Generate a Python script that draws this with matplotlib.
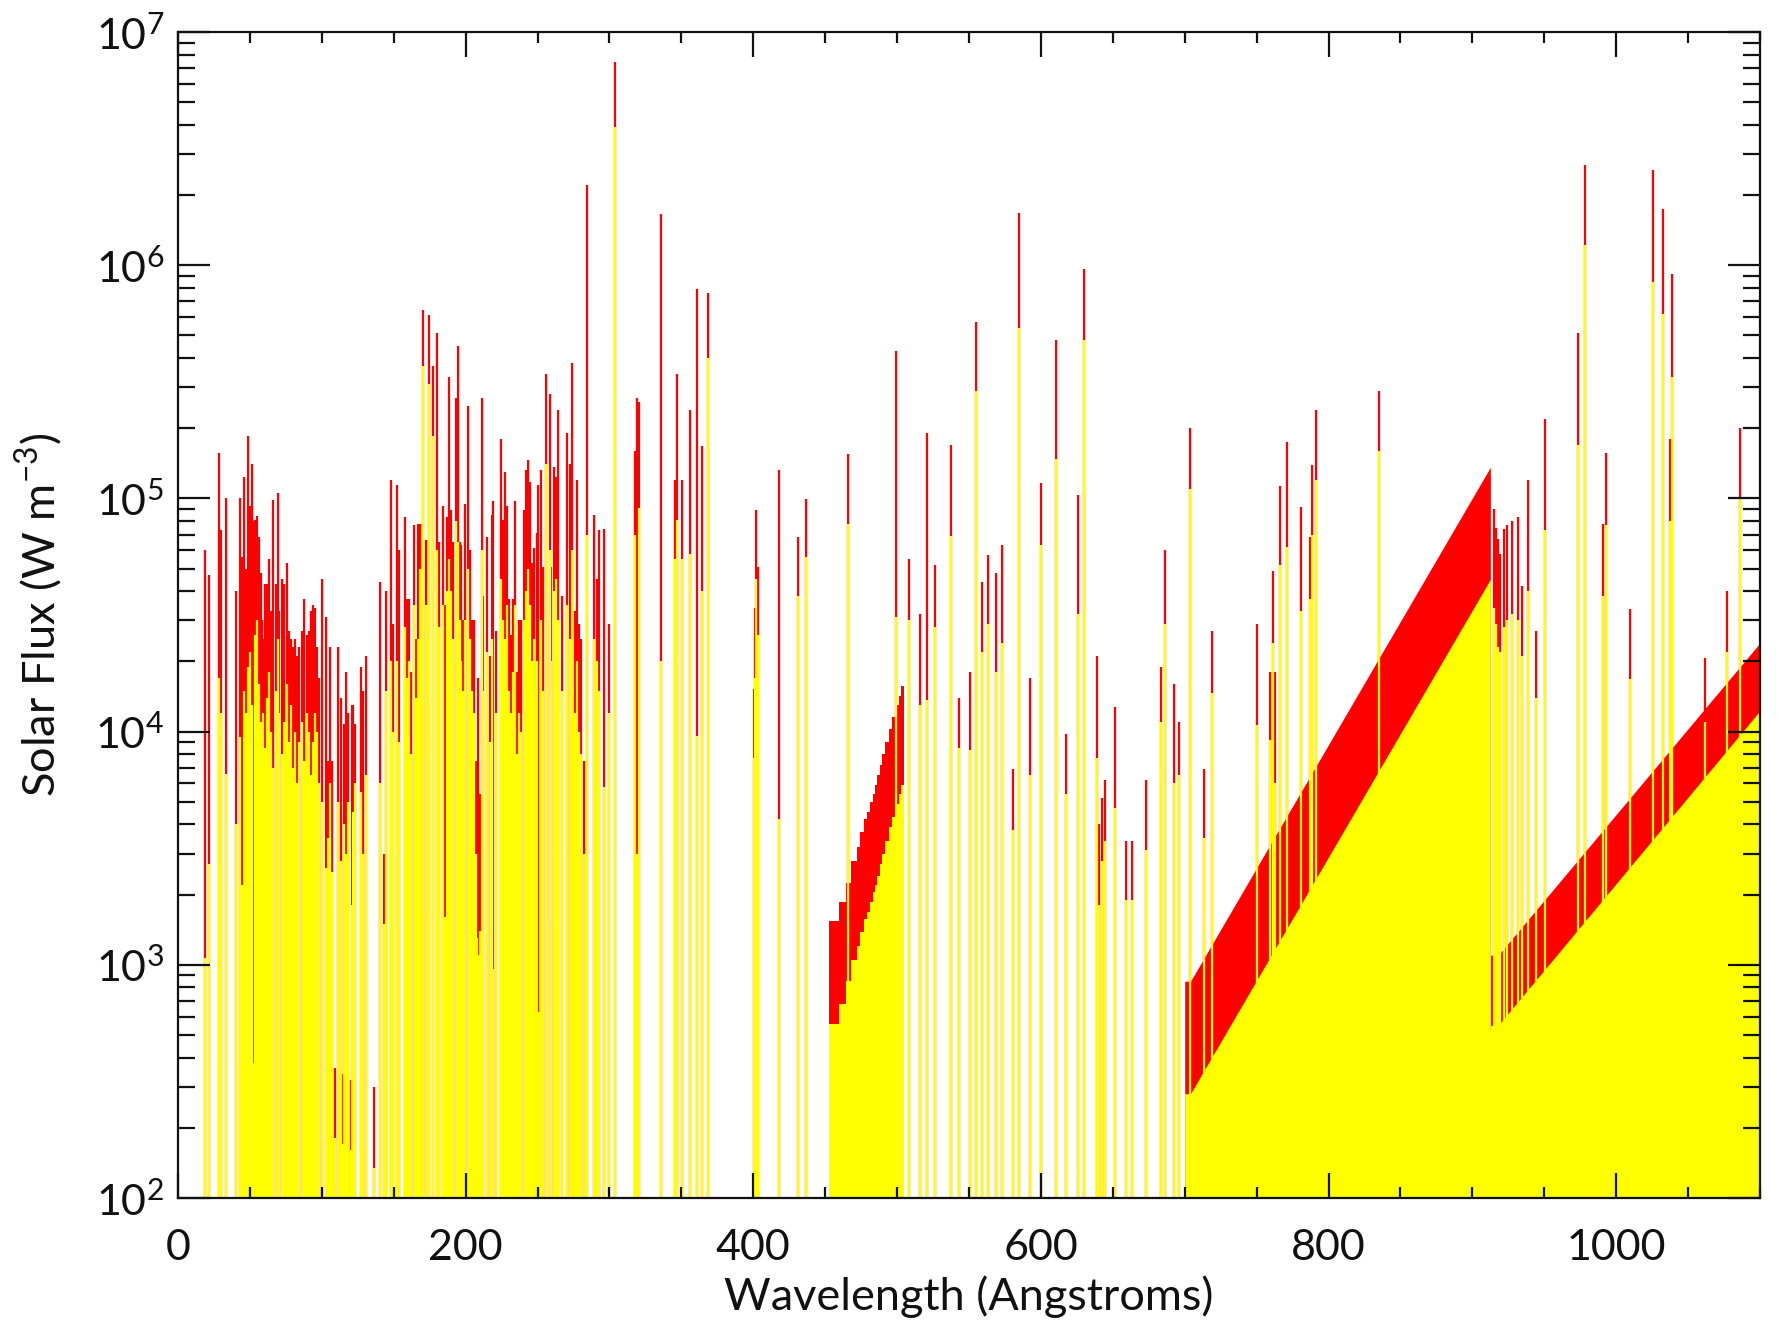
import matplotlib
matplotlib.use('Agg')
import matplotlib.pyplot as plt
from matplotlib.ticker import FixedLocator, MultipleLocator, LogLocator, NullFormatter

plt.rcParams['font.family'] = ['Lato', 'DejaVu Sans']
plt.rcParams['mathtext.fontset'] = 'custom'
plt.rcParams['mathtext.rm'] = 'Lato'
plt.rcParams['mathtext.it'] = 'Lato:italic'
plt.rcParams['mathtext.bf'] = 'Lato:bold'

# ---------------- data ----------------
# emission lines, 0-150 A : wavelength, flux at solar max (red), flux at solar min (yellow)
wl_a = [18.6, 21.6, 28.6, 29.7, 33.2, 40.4, 43.2, 44.6, 46.0, 47.4, 49.0, 50.4, 51.8, 52.4, 53.2, 54.8,
        56.2, 57.6, 58.6, 59.0, 60.4, 61.7, 63.1, 64.5, 65.9, 67.8, 69.2, 70.5, 72.2, 73.6, 75.7, 77.0,
        78.4, 79.8, 81.2, 82.6, 84.0, 86.1, 87.7, 89.6, 91.0, 92.3, 93.7, 95.1, 96.5, 97.9, 100.2, 103.0,
        104.4, 105.8, 107.4, 109.3, 111.1, 113.4, 114.6, 115.5, 116.7, 118.1, 120.2, 120.8, 121.8, 123.4,
        127.1, 128.7, 130.6, 136.4, 140.8, 143.0, 144.7, 148.0, 149.8]
max_a = [6.0e4, 4.7e4, 1.57e5, 7.3e4, 1.0e5, 4.0e4, 1.0e5, 5.6e4, 1.24e5, 5.0e4, 1.85e5, 9.3e4, 1.4e5, 8.0e4, 8.1e4, 8.4e4,
         6.8e4, 4.8e4, 3.0e4, 2.5e4, 4.3e4, 4.3e4, 5.5e4, 3.3e4, 9.8e4, 4.3e4, 1.05e5, 3.3e4, 4.5e4, 4.3e4, 5.3e4, 2.7e4,
         2.5e4, 2.3e4, 2.5e4, 2.1e4, 2.3e4, 2.7e4, 3.7e4, 2.6e4, 2.7e4, 3.3e4, 3.5e4, 3.4e4, 2.3e4, 1.7e4, 4.5e4, 3.1e4,
         7.5e3, 2.3e4, 7.5e3, 3.6e2, 2.3e4, 1.4e4, 3.4e2, 1.08e4, 1.8e4, 1.2e4, 3.2e2, 1.3e4, 1.3e4, 1.08e4,
         1.9e4, 1.5e4, 2.1e4, 3.0e2, 4.4e4, 3.0e3, 4.0e4, 1.2e5, 2.9e4]
min_a = [1.07e3, 2.7e3, 1.7e4, 1.2e4, 6.6e3, 4.0e3, 9.5e3, 2.2e3, 1.5e4, 1.2e4, 1.9e4, 2.2e4, 1.3e4, 3.8e2, 2.6e4, 3.0e4,
         1.6e4, 1.1e4, 2.3e3, 1.2e4, 8.5e3, 1.4e4, 1.8e4, 1.0e4, 7.0e3, 1.5e4, 2.5e4, 1.2e4, 8.0e3, 1.1e4, 1.6e4, 9.0e3,
         1.3e4, 7.0e3, 1.0e4, 6.0e3, 9.0e3, 1.1e4, 7.5e3, 1.2e4, 1.0e4, 6.5e3, 9.0e3, 1.2e4, 1.0e4, 6.0e3, 5.0e3, 2.6e3,
         3.5e3, 6.0e3, 2.5e3, 1.8e2, 5.0e3, 2.8e3, 1.7e2, 4.0e3, 3.0e3, 5.0e3, 1.6e2, 1.8e3, 4.5e3, 6.0e3,
         5.5e3, 3.0e3, 6.5e3, 1.35e2, 6.0e3, 1.5e3, 1.5e4, 2.0e4, 1.0e4]

# emission lines, 150-400 A
wl_b = [152.2, 153.6, 157.5, 159.1, 160.5, 161.7, 164.0, 165.6, 167.2, 168.4, 170.3, 172.6, 174.2, 177.2, 180.0, 181.8,
        184.6, 185.9, 186.7, 188.1, 190.0, 191.1, 193.0, 194.4, 195.8, 197.1, 198.5, 199.9, 201.5, 202.7, 204.3, 205.5,
        206.9, 207.8, 208.3, 209.7, 211.3, 212.4, 214.8, 216.6, 218.2, 219.2, 221.3, 224.7, 226.1, 227.3, 228.9, 230.3,
        231.5, 232.9, 234.0, 235.6, 237.3, 238.6, 240.3, 241.7, 243.5, 244.9, 246.3, 247.7, 249.3, 250.6, 252.3, 253.7,
        256.0, 258.4, 258.9, 259.5, 261.1, 262.5, 264.4, 266.7, 270.4, 272.5, 274.1, 275.7, 277.4, 278.8, 280.4, 282.0,
        284.1, 289.2, 291.0, 292.9, 296.4, 299.6, 303.6, 317.5, 319.5, 320.7, 335.6, 345.5, 347.3, 350.1, 356.3, 360.9,
        364.4, 368.3]
max_b = [1.14e5, 6.0e4, 8.3e4, 3.7e4, 3.7e4, 1.8e4, 7.7e4, 2.5e4, 7.8e4, 7.8e4, 6.4e5, 6.6e4, 6.1e5, 3.7e5, 5.1e5, 6.5e4,
         9.3e4, 3.5e4, 8.3e4, 3.3e5, 8.9e4, 6.5e4, 2.7e5, 4.5e5, 6.5e4, 6.3e4, 3.0e4, 9.5e4, 2.5e5, 6.0e4, 3.0e4, 3.0e4,
         7.5e3, 6.0e3, 1.7e4, 5.4e3, 2.7e5, 3.8e4, 6.8e4, 2.1e4, 8.5e4, 9.7e4, 2.7e4, 1.8e5, 8.1e4, 1.3e5, 9.3e4, 3.7e4,
         2.6e4, 3.7e4, 9.7e4, 1.8e4, 3.0e4, 3.0e4, 8.9e4, 1.32e5, 1.46e5, 1.18e5, 5.3e4, 6.1e4, 7.1e4, 1.14e5, 1.32e5, 5.1e4,
         3.4e5, 2.8e5, 3.0e4, 5.1e4, 1.36e5, 1.24e5, 2.4e5, 3.8e4, 1.9e5, 1.4e5, 3.8e5, 3.3e4, 1.2e5, 2.9e4, 2.5e4, 7.5e3,
         2.2e6, 8.5e4, 4.5e4, 7.3e4, 7.4e4, 2.9e4, 7.4e6, 1.6e5, 2.7e5, 2.6e5, 1.65e6, 1.2e5, 3.4e5, 1.2e5, 2.4e5, 7.9e5,
         1.67e5, 7.6e5]
min_b = [2.0e4, 9.0e3, 2.8e4, 1.7e4, 2.0e4, 8.0e3, 3.5e4, 1.4e4, 2.5e4, 5.0e4, 3.7e5, 3.5e4, 3.1e5, 1.85e5, 6.0e4, 2.8e4,
         3.5e4, 1.6e3, 4.0e4, 5.5e4, 4.0e4, 2.5e4, 8.0e4, 6.5e4, 3.0e4, 2.0e4, 1.5e4, 3.0e4, 5.0e4, 2.5e4, 1.5e4, 1.2e4,
         3.0e3, 1.3e3, 1.1e3, 1.4e3, 6.0e4, 1.5e4, 2.2e4, 9.0e3, 2.5e4, 9.6e2, 1.2e4, 4.5e4, 3.0e4, 2.5e4, 3.5e4, 1.5e4,
         1.2e4, 1.8e4, 3.5e4, 8.0e3, 1.2e4, 1.0e4, 3.0e4, 4.0e4, 5.0e4, 3.5e4, 2.0e4, 2.5e4, 2.0e4, 6.3e2, 3.0e4, 1.5e4,
         1.4e5, 6.0e4, 1.5e3, 2.0e4, 4.0e4, 4.5e4, 3.0e4, 1.5e4, 3.5e4, 2.5e4, 6.0e4, 1.2e4, 2.0e4, 1.0e4, 8.0e3, 3.0e3,
         7.0e4, 2.5e4, 2.0e4, 1.5e4, 5.8e3, 1.2e4, 3.9e6, 7.0e4, 3.0e3, 9.1e4, 2.0e4, 5.5e4, 8.1e4, 5.5e4, 5.8e4, 9.6e3,
         4.0e4, 4.0e5]

# emission lines, 400-1100 A
wl_c = [400.3, 401.2, 402.1, 403.0, 417.6, 430.9, 436.9, 465.6, 499.5, 508.1, 516.2, 520.9, 526.2, 537.3, 543.1, 550.5,
        554.7, 558.9, 563.3, 569.1, 572.8, 580.6, 585.1, 592.7, 600.2, 610.2, 617.3, 625.7, 630.3, 639.1, 640.5, 642.3,
        644.5, 651.8, 659.2, 663.0, 673.4, 683.6, 686.1, 692.7, 695.9, 703.9, 713.2, 718.9, 750.4, 759.5, 761.2, 763.0,
        766.1, 771.2, 780.8, 787.2, 788.5, 791.0, 835.0, 913.0, 915.3, 916.3, 917.6, 918.9, 921.8, 924.1, 927.4, 931.5,
        934.6, 938.7, 944.0, 950.8, 973.7, 978.1, 991.0, 992.8, 1009.5, 1025.7, 1032.9, 1037.5, 1038.8, 1062.0, 1077.0,
        1086.4]
max_c = [1.52e4, 3.4e4, 8.9e4, 5.1e4, 1.33e5, 6.8e4, 9.9e4, 1.55e5, 4.3e5, 5.5e4, 3.2e4, 1.9e5, 5.2e4, 1.7e5, 1.4e4, 1.8e4,
         5.7e5, 4.4e4, 5.7e4, 4.8e4, 6.3e4, 6.9e3, 1.67e6, 1.7e4, 1.16e5, 4.8e5, 9.8e3, 1.03e5, 9.6e5, 2.1e4, 4.0e3, 5.2e3,
         6.2e3, 1.27e4, 3.4e3, 3.4e3, 6.2e3, 1.9e4, 6.0e4, 1.6e4, 1.1e4, 2.0e5, 6.9e3, 2.7e4, 2.9e4, 1.8e4, 4.9e4, 1.8e4,
         1.13e5, 1.75e5, 9.2e4, 6.8e4, 1.39e5, 2.4e5, 2.9e5, 1.05e3, 9.0e4, 7.5e4, 6.7e4, 5.8e4, 7.4e4, 7.7e4, 8.0e4, 8.3e4,
         4.2e4, 1.2e5, 2.7e4, 2.2e5, 5.1e5, 2.7e6, 7.8e4, 1.57e5, 3.35e4, 2.56e6, 1.75e6, 1.8e5, 9.2e5, 2.07e4, 4.0e4,
         2.0e5]
min_c = [7.7e3, 1.7e4, 4.5e4, 2.6e4, 4.2e3, 3.8e4, 5.6e4, 7.8e4, 3.1e4, 3.0e4, 1.3e4, 1.36e4, 2.8e4, 6.9e4, 8.5e3, 8.3e3,
         2.9e5, 2.2e4, 2.9e4, 1.8e4, 2.4e4, 3.8e3, 5.4e5, 6.5e3, 6.3e4, 1.47e5, 5.4e3, 3.2e4, 4.8e5, 7.7e3, 1.8e3, 2.8e3,
         3.4e3, 4.7e3, 1.9e3, 1.9e3, 3.1e3, 1.1e4, 2.9e4, 6.0e3, 6.5e3, 1.1e5, 3.5e3, 1.47e4, 1.07e4, 9.2e3, 2.4e4, 6.0e3,
         5.2e4, 6.2e4, 3.3e4, 3.7e4, 7.0e4, 1.2e5, 1.6e5, 5.2e2, 3.4e4, 2.9e4, 2.3e4, 2.2e4, 2.8e4, 3.0e4, 3.2e4, 3.0e4,
         2.1e4, 4.0e4, 1.4e4, 7.3e4, 1.7e5, 1.22e6, 3.8e4, 7.7e4, 1.68e4, 8.5e5, 6.2e5, 8.0e4, 3.3e5, 1.1e4, 2.2e4,
         1.0e5]

# He I continuum (stepped bins, 452-505 A)
hei_edges = [452.4, 459.9, 464.7, 468.1, 472.0, 474.1, 476.9, 479.2, 481.2, 483.1, 484.5, 486.1, 488.0, 489.8,
             491.9, 494.2, 496.5, 498.8, 501.1, 503.0, 505.0]
hei_max = [1.54e3, 1.85e3, 2.25e3, 2.8e3, 3.2e3, 3.7e3, 4.2e3, 4.5e3, 5.0e3, 5.4e3, 5.9e3, 6.5e3, 7.2e3, 8.0e3,
           9.0e3, 1.03e4, 1.16e4, 1.3e4, 1.42e4, 1.57e4]
hei_min = [5.6e2, 6.8e2, 8.5e2, 1.05e3, 1.2e3, 1.38e3, 1.57e3, 1.68e3, 1.85e3, 2.05e3, 2.2e3, 2.4e3, 2.7e3, 3.0e3,
           3.4e3, 3.9e3, 4.3e3, 4.9e3, 5.4e3, 5.9e3]

# Lyman continuum (700-912 A)
lyc_wl = [700, 704, 912.5]
lyc_max = [8.5e2, 8.5e2, 1.36e5]
lyc_min = [2.8e2, 2.8e2, 4.5e4]

# continuum longward of 912 A
uv_wl = [912.5, 918, 1100]
uv_max = [1.1e3, 1.1e3, 2.4e4]
uv_min = [5.5e2, 5.5e2, 1.23e4]

x_ticks = [0, 200, 400, 600, 800, 1000]
y_ticks = [1e2, 1e3, 1e4, 1e5, 1e6, 1e7]
y_ticklabels = [r'$\mathregular{10^{2}}$', r'$\mathregular{10^{3}}$', r'$\mathregular{10^{4}}$',
                r'$\mathregular{10^{5}}$', r'$\mathregular{10^{6}}$', r'$\mathregular{10^{7}}$']

assert len(wl_a) == len(max_a) == len(min_a), (len(wl_a), len(max_a), len(min_a))
assert len(wl_b) == len(max_b) == len(min_b), (len(wl_b), len(max_b), len(min_b))
assert len(wl_c) == len(max_c) == len(min_c), (len(wl_c), len(max_c), len(min_c))

wl = wl_a + wl_b + wl_c
fmax = max_a + max_b + max_c
fmin = min_a + min_b + min_c

RED = '#ff0000'
YEL = '#ffff00'
FS_TICK = 31
FS_LABEL = 32.5

fig = plt.figure(figsize=(17.77, 13.25), dpi=100)
ax = fig.add_axes([178 / 1777, 1 - 1198 / 1325, (1760 - 178) / 1777, (1198 - 32) / 1325])
ax.set_yscale('log')

base = 1.0
# solar-max (red) layer
ax.stairs(hei_max, hei_edges, baseline=base, fill=True, color=RED, lw=0, zorder=1.0)
ax.fill_between(lyc_wl, base, lyc_max, color=RED, lw=0, zorder=1.0)
ax.fill_between(uv_wl, base, uv_max, color=RED, lw=0, zorder=1.0)
ax.vlines(wl, base, fmax, colors=RED, lw=1.6, zorder=1.1)
# solar-min (yellow) layer
ax.stairs(hei_min, hei_edges, baseline=base, fill=True, color=YEL, lw=0, zorder=1.2)
ax.fill_between(lyc_wl, base, lyc_min, color=YEL, lw=0, zorder=1.2)
ax.fill_between(uv_wl, base, uv_min, color=YEL, lw=0, zorder=1.2)
ax.vlines(wl, base, fmin, colors=YEL, lw=1.6, zorder=1.3)

ax.set_xlim(0, 1100)
ax.set_ylim(1e2, 1e7)
ax.set_axisbelow(False)

ax.xaxis.set_major_locator(FixedLocator(x_ticks))
ax.xaxis.set_minor_locator(MultipleLocator(50))
ax.set_xticklabels([str(v) for v in x_ticks])
ax.set_yticks(y_ticks)
ax.set_yticklabels(y_ticklabels)
ax.yaxis.set_minor_locator(LogLocator(base=10, subs=[2, 3, 4, 5, 6, 7, 8, 9], numticks=20))
ax.yaxis.set_minor_formatter(NullFormatter())

ax.tick_params(which='both', direction='in', top=True, right=True, color='#111111', width=1.6,
               labelcolor='#111111')
ax.tick_params(axis='x', which='major', length=18, pad=22, labelsize=FS_TICK)
ax.tick_params(axis='x', which='minor', length=8)
ax.tick_params(axis='y', which='major', length=23, pad=10, labelsize=FS_TICK)
ax.tick_params(axis='y', which='minor', length=12)
for s in ax.spines.values():
    s.set_linewidth(1.6)
    s.set_color('#111111')

ax.set_xlabel('Wavelength (Angstroms)', fontsize=FS_LABEL, labelpad=6, color='#111111')
ax.set_ylabel(r'Solar Flux (W m$^{\mathregular{-3}}$)', fontsize=FS_LABEL, labelpad=22, color='#111111')

fig.savefig('out.png', dpi=100)
